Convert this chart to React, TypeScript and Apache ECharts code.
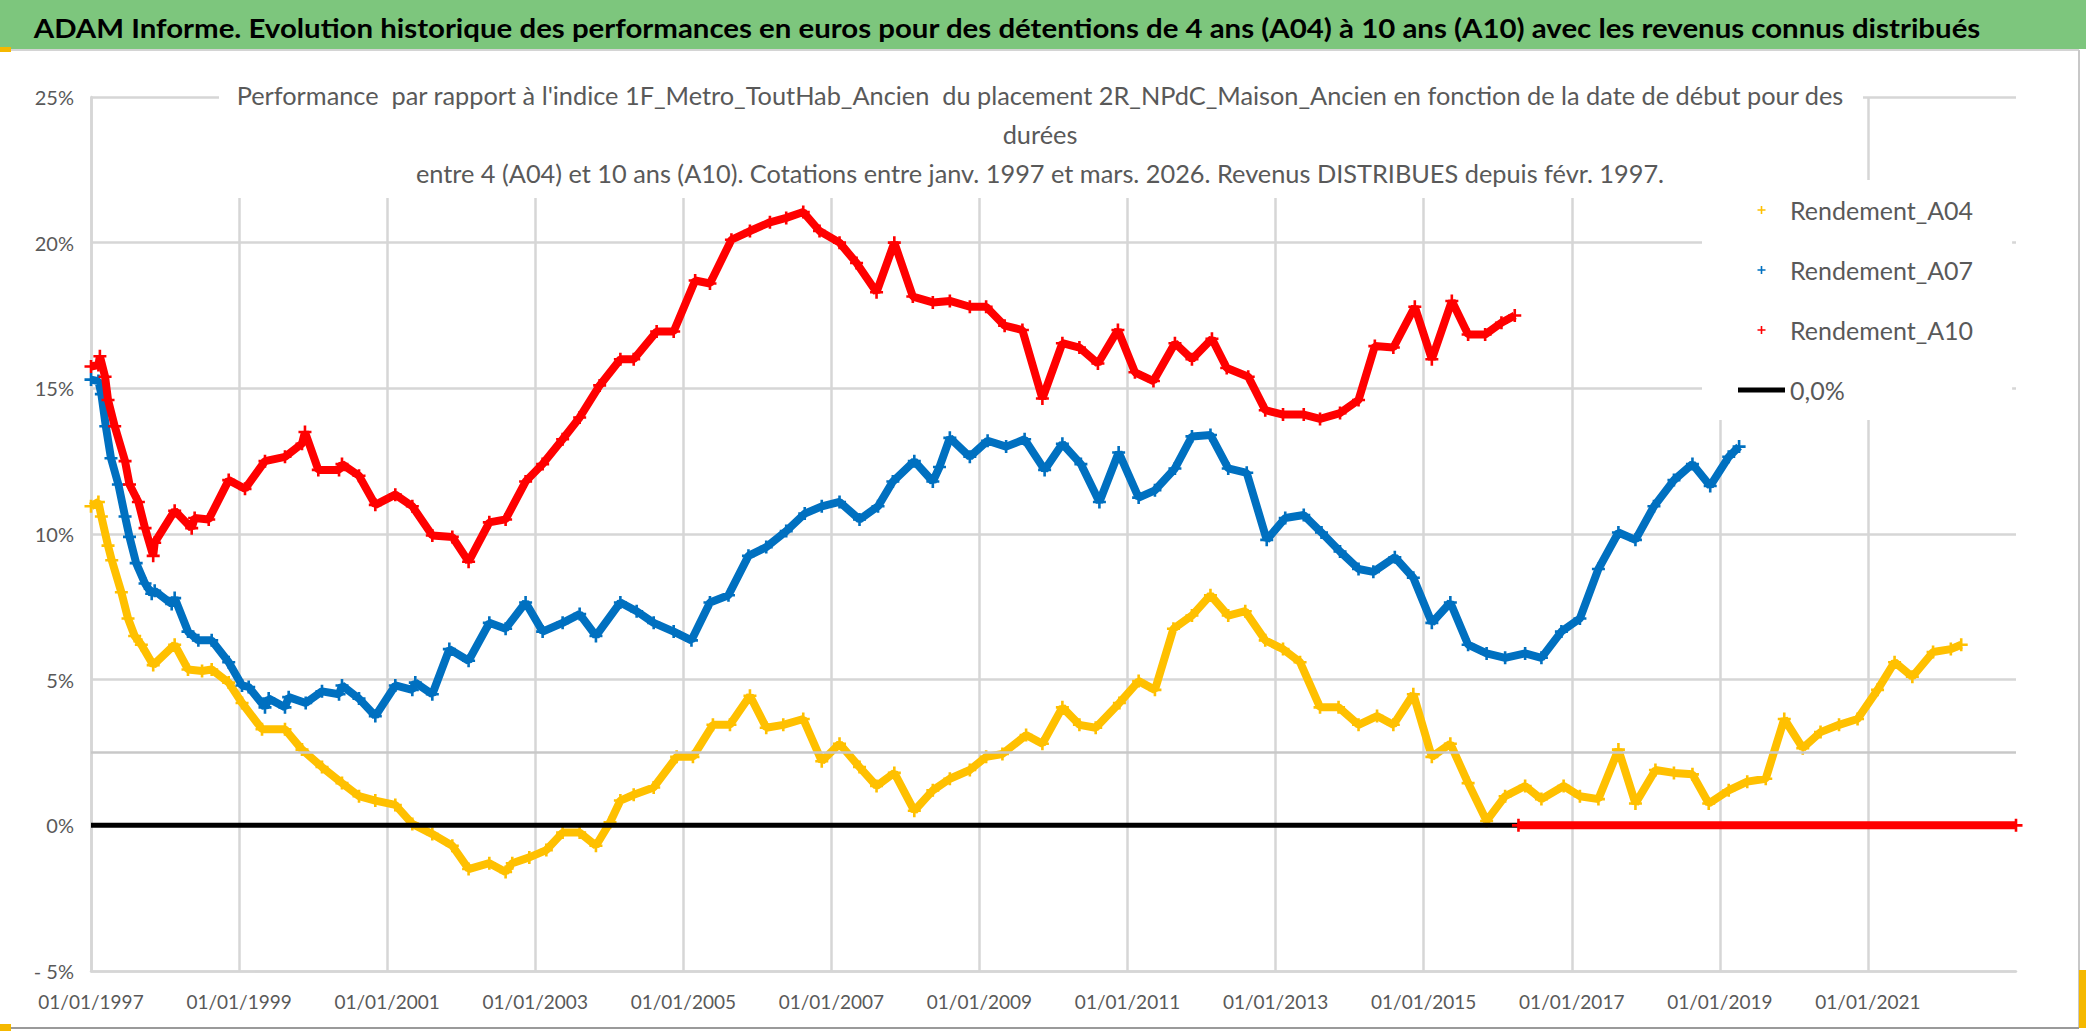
import React, { useEffect, useRef } from 'react';
import * as echarts from 'echarts';

const START_YEAR = 1997;
const END_YEAR = 2023;
const X_TICK_STEP = 2;
const Y_MIN = -5;
const Y_MAX = 25;
const Y_STEP = 5;
const REFERENCE_LEVEL = 2.5;

const TITLE =
  'ADAM Informe. Evolution historique des performances en euros pour des détentions de 4 ans (A04) à 10 ans (A10) avec les revenus connus distribués';
const SUBTITLE_LINES = [
  "Performance  par rapport à l'indice 1F_Metro_ToutHab_Ancien  du placement 2R_NPdC_Maison_Ancien en fonction de la date de début pour des",
  'durées',
  'entre 4 (A04) et 10 ans (A10). Cotations entre janv. 1997 et mars. 2026. Revenus DISTRIBUES depuis févr. 1997.',
];
const SERIES_NAMES = ['Rendement_A04', 'Rendement_A07', 'Rendement_A10', '0,0%'];
const SERIES_COLORS = ['#FFC000', '#0070C0', '#FF0000', '#000000'];

// [year (decimal), performance %]
const A04 = [
  [1997.0, 10.95], [1997.1, 11.1], [1997.14, 10.6], [1997.23, 9.6], [1997.28, 9.1], [1997.41, 8.0],
  [1997.5, 7.1], [1997.59, 6.5], [1997.68, 6.2], [1997.84, 5.5], [1998.13, 6.2], [1998.31, 5.35],
  [1998.5, 5.3], [1998.63, 5.35], [1998.86, 4.9], [1999.04, 4.2], [1999.31, 3.3], [1999.62, 3.3],
  [1999.85, 2.6], [2000.12, 2.0], [2000.39, 1.45], [2000.62, 1.0], [2000.84, 0.85], [2001.11, 0.7],
  [2001.34, 0.05], [2001.61, -0.3], [2001.88, -0.7], [2002.1, -1.5], [2002.38, -1.3], [2002.6, -1.6],
  [2002.69, -1.3], [2002.92, -1.1], [2003.15, -0.85], [2003.37, -0.25], [2003.6, -0.25], [2003.82, -0.7],
  [2004.01, 0.1], [2004.15, 0.85], [2004.33, 1.05], [2004.6, 1.3], [2004.91, 2.35], [2005.13, 2.35],
  [2005.4, 3.45], [2005.63, 3.45], [2005.9, 4.45], [2006.12, 3.35], [2006.35, 3.45], [2006.62, 3.65],
  [2006.87, 2.2], [2007.11, 2.8], [2007.38, 2.0], [2007.61, 1.35], [2007.85, 1.8], [2008.12, 0.5],
  [2008.37, 1.2], [2008.6, 1.6], [2008.87, 1.9], [2009.09, 2.35], [2009.31, 2.45], [2009.63, 3.1],
  [2009.85, 2.8], [2010.12, 4.05], [2010.35, 3.45], [2010.57, 3.35], [2010.89, 4.2], [2011.15, 4.95],
  [2011.37, 4.65], [2011.62, 6.75], [2011.87, 7.2], [2012.12, 7.9], [2012.36, 7.2], [2012.59, 7.35],
  [2012.86, 6.35], [2013.1, 6.05], [2013.33, 5.6], [2013.6, 4.05], [2013.85, 4.05], [2014.12, 3.45],
  [2014.37, 3.75], [2014.59, 3.45], [2014.86, 4.5], [2015.11, 2.35], [2015.36, 2.8], [2015.6, 1.45],
  [2015.85, 0.15], [2016.1, 1.0], [2016.37, 1.35], [2016.59, 0.9], [2016.89, 1.35], [2017.11, 1.0],
  [2017.36, 0.9], [2017.63, 2.6], [2017.86, 0.75], [2018.13, 1.9], [2018.38, 1.8], [2018.63, 1.75],
  [2018.85, 0.75], [2019.12, 1.2], [2019.37, 1.5], [2019.62, 1.6], [2019.87, 3.65], [2020.12, 2.65],
  [2020.36, 3.2], [2020.61, 3.45], [2020.86, 3.65], [2021.13, 4.65], [2021.36, 5.6], [2021.6, 5.1],
  [2021.88, 5.95], [2022.12, 6.05], [2022.26, 6.2],
];

const A07 = [
  [1997.0, 15.3], [1997.1, 15.25], [1997.14, 14.8], [1997.2, 13.7], [1997.27, 12.6], [1997.37, 11.7],
  [1997.46, 10.6], [1997.52, 9.9], [1997.61, 9.0], [1997.73, 8.3], [1997.82, 7.95], [1997.86, 8.05],
  [1998.09, 7.6], [1998.13, 7.8], [1998.31, 6.65], [1998.45, 6.35], [1998.63, 6.35], [1998.86, 5.6],
  [1999.04, 4.8], [1999.13, 4.75], [1999.35, 4.05], [1999.4, 4.35], [1999.62, 4.05], [1999.67, 4.4],
  [1999.9, 4.2], [2000.12, 4.6], [2000.35, 4.5], [2000.39, 4.8], [2000.62, 4.35], [2000.84, 3.75],
  [2001.11, 4.8], [2001.34, 4.65], [2001.38, 4.9], [2001.61, 4.5], [2001.84, 6.05], [2002.1, 5.65],
  [2002.38, 6.95], [2002.6, 6.75], [2002.87, 7.65], [2003.1, 6.65], [2003.37, 6.95], [2003.6, 7.25],
  [2003.82, 6.5], [2004.15, 7.65], [2004.37, 7.35], [2004.6, 6.95], [2004.87, 6.65], [2005.11, 6.35],
  [2005.36, 7.65], [2005.61, 7.9], [2005.88, 9.25], [2006.12, 9.55], [2006.39, 10.1], [2006.64, 10.7],
  [2006.87, 10.95], [2007.11, 11.1], [2007.38, 10.5], [2007.63, 10.95], [2007.83, 11.8], [2008.12, 12.5],
  [2008.37, 11.8], [2008.46, 12.3], [2008.6, 13.3], [2008.87, 12.65], [2009.11, 13.2], [2009.36, 13.0],
  [2009.61, 13.25], [2009.88, 12.2], [2010.12, 13.1], [2010.37, 12.4], [2010.62, 11.1], [2010.88, 12.8],
  [2011.15, 11.25], [2011.37, 11.5], [2011.64, 12.25], [2011.87, 13.35], [2012.12, 13.4], [2012.36, 12.25],
  [2012.61, 12.1], [2012.88, 9.8], [2013.13, 10.55], [2013.38, 10.65], [2013.62, 10.05], [2013.87, 9.4],
  [2014.12, 8.8], [2014.32, 8.7], [2014.61, 9.2], [2014.86, 8.5], [2015.11, 6.95], [2015.36, 7.65],
  [2015.6, 6.2], [2015.85, 5.9], [2016.1, 5.75], [2016.37, 5.9], [2016.59, 5.75], [2016.86, 6.65],
  [2017.11, 7.1], [2017.36, 8.8], [2017.63, 10.05], [2017.86, 9.8], [2018.11, 10.95], [2018.38, 11.85],
  [2018.63, 12.4], [2018.87, 11.65], [2019.12, 12.65], [2019.26, 13.0],
];

const A10 = [
  [1997.0, 15.75], [1997.1, 15.8], [1997.12, 16.1], [1997.19, 15.4], [1997.23, 14.6], [1997.32, 13.7],
  [1997.46, 12.5], [1997.52, 11.7], [1997.64, 11.1], [1997.73, 10.2], [1997.84, 9.25], [1997.86, 9.7],
  [1998.13, 10.8], [1998.36, 10.2], [1998.4, 10.55], [1998.59, 10.5], [1998.86, 11.85], [1999.08, 11.55],
  [1999.35, 12.5], [1999.62, 12.65], [1999.85, 13.1], [1999.89, 13.5], [2000.07, 12.2], [2000.35, 12.2],
  [2000.39, 12.4], [2000.62, 12.0], [2000.84, 11.0], [2001.11, 11.35], [2001.34, 10.95], [2001.61, 9.95],
  [2001.88, 9.9], [2002.1, 9.05], [2002.38, 10.4], [2002.6, 10.5], [2002.87, 11.8], [2003.1, 12.4],
  [2003.37, 13.25], [2003.6, 14.0], [2003.87, 15.1], [2004.15, 16.0], [2004.33, 16.0], [2004.64, 16.95],
  [2004.87, 16.95], [2005.16, 18.7], [2005.36, 18.6], [2005.65, 20.1], [2005.9, 20.4], [2006.17, 20.7],
  [2006.39, 20.85], [2006.62, 21.05], [2006.84, 20.4], [2007.11, 20.0], [2007.34, 19.3], [2007.61, 18.3],
  [2007.85, 20.0], [2008.1, 18.15], [2008.37, 17.95], [2008.6, 18.0], [2008.87, 17.8], [2009.09, 17.8],
  [2009.34, 17.15], [2009.58, 17.0], [2009.85, 14.65], [2010.12, 16.55], [2010.35, 16.4], [2010.6, 15.85],
  [2010.87, 17.0], [2011.1, 15.55], [2011.35, 15.25], [2011.64, 16.55], [2011.87, 16.0], [2012.14, 16.7],
  [2012.34, 15.7], [2012.63, 15.4], [2012.86, 14.25], [2013.1, 14.1], [2013.38, 14.1], [2013.6, 13.95],
  [2013.87, 14.15], [2014.12, 14.6], [2014.34, 16.45], [2014.59, 16.4], [2014.88, 17.8], [2015.11, 16.0],
  [2015.38, 18.0], [2015.6, 16.85], [2015.83, 16.85], [2016.05, 17.25], [2016.23, 17.5],
];

// A10 values after the end of its data (plotted at 0)
const A10_ZERO_TAIL = [[2016.28, 0], [2023.0, 0]];
const ZERO_LINE = [[1997.0, 0], [2023.0, 0]];
const REFERENCE_LINE = [[1997.0, REFERENCE_LEVEL], [2023.0, REFERENCE_LEVEL]];

const PLUS = 'path://M4,0H6V4H10V6H6V10H4V6H0V4H4Z';
const BAR_ICON = 'path://M0,0H47V5H0Z';
const FONT = 'Lato, "Open Sans", sans-serif';
const GREY_TEXT = '#595959';
const GRID_COLOR = '#d6d6d6';
const REF_COLOR = '#c8c8c8';

const toXY = (arr: number[][]) => arr.map(([yr, v]) => [yr - START_YEAR, v]);

function textWidth(text: string, font: string): number {
  const ctx = document.createElement('canvas').getContext('2d');
  if (!ctx) return 1;
  ctx.font = font;
  return ctx.measureText(text).width || 1;
}

export default function App() {
  const ref = useRef<HTMLDivElement>(null);

  useEffect(() => {
    if (!ref.current) return;
    const chart = echarts.init(ref.current, null, { renderer: 'svg' });

    const titleScale = 1948 / textWidth(TITLE, `bold 26px ${FONT}`);
    const s1 = 1624 / textWidth(SUBTITLE_LINES[0], `25px ${FONT}`);
    const s3 = 1235 / textWidth(SUBTITLE_LINES[2], `25px ${FONT}`);
    const subScale = (s1 + s3) / 2;
    const subY = [95, 134, 173];

    const lineSeries = (name: string, data: number[][], color: string, z: number, width = 8) => ({
      name,
      type: 'line',
      data: toXY(data),
      z,
      symbol: PLUS,
      symbolSize: 13,
      symbolKeepAspect: true,
      lineStyle: { color, width },
      itemStyle: { color },
      emphasis: { disabled: true },
      silent: true,
    });

    const option: any = {
      animation: false,
      backgroundColor: '#ffffff',
      grid: { left: 91, right: 70, top: 97, bottom: 60, outerBoundsMode: 'none' },
      xAxis: {
        type: 'value',
        min: 0,
        max: END_YEAR - START_YEAR,
        interval: X_TICK_STEP,
        axisLine: { show: true, onZero: false, lineStyle: { color: GRID_COLOR, width: 2.5 } },
        axisTick: { show: false },
        splitLine: { show: true, showMaxLine: false, lineStyle: { color: GRID_COLOR, width: 2.5 } },
        axisLabel: {
          formatter: (v: number) => '01/01/' + (START_YEAR + v),
          color: GREY_TEXT,
          fontSize: 19,
          fontFamily: FONT,
          margin: 21,
          showMaxLabel: false,
        },
      },
      yAxis: {
        type: 'value',
        min: Y_MIN,
        max: Y_MAX,
        interval: Y_STEP,
        axisLine: { show: true, onZero: false, lineStyle: { color: GRID_COLOR, width: 2.5 } },
        axisTick: { show: false },
        splitLine: { show: true, lineStyle: { color: GRID_COLOR, width: 2.5 } },
        axisLabel: {
          formatter: (v: number) => (v < 0 ? '- ' + Math.abs(v) + '%' : v + '%'),
          color: GREY_TEXT,
          fontSize: 20,
          fontFamily: FONT,
          margin: 17,
        },
      },
      legend: {
        orient: 'vertical',
        left: 1702,
        top: 180,
        padding: [15, 39, 15, 36],
        backgroundColor: '#ffffff',
        itemWidth: 47,
        itemHeight: 8,
        itemGap: 30,
        selectedMode: false,
        textStyle: { color: GREY_TEXT, fontSize: 25, fontFamily: FONT, lineHeight: 30 },
        data: [
          { name: SERIES_NAMES[0], icon: PLUS },
          { name: SERIES_NAMES[1], icon: PLUS },
          { name: SERIES_NAMES[2], icon: PLUS },
          { name: SERIES_NAMES[3], icon: BAR_ICON },
        ],
      },
      series: [
        {
          name: 'Référence 2,5%',
          type: 'line',
          data: toXY(REFERENCE_LINE),
          symbol: 'none',
          showSymbol: false,
          silent: true,
          lineStyle: { color: REF_COLOR, width: 2.5, opacity: 1 },
          itemStyle: { color: REF_COLOR },
          emphasis: { disabled: true },
        },
        lineSeries(SERIES_NAMES[0], A04, SERIES_COLORS[0], 2),
        lineSeries(SERIES_NAMES[1], A07, SERIES_COLORS[1], 2),
        {
          name: SERIES_NAMES[3],
          type: 'line',
          data: toXY(ZERO_LINE),
          z: 3,
          symbol: 'none',
          lineStyle: { color: SERIES_COLORS[3], width: 5 },
          itemStyle: { color: SERIES_COLORS[3] },
          emphasis: { disabled: true },
          silent: true,
        },
        lineSeries(SERIES_NAMES[2], A10, SERIES_COLORS[2], 4),
        lineSeries(SERIES_NAMES[2], A10_ZERO_TAIL, SERIES_COLORS[2], 4, 8),
      ],
      graphic: [
        { type: 'rect', z: 20, shape: { x: 0, y: 0, width: 2086, height: 49 }, style: { fill: '#7dc67d' } },
        { type: 'line', z: 21, shape: { x1: 0, y1: 50, x2: 2079, y2: 50 }, style: { stroke: '#d4d4d4', lineWidth: 2 } },
        {
          type: 'text',
          z: 22,
          x: 1007,
          y: 28,
          scaleX: titleScale,
          style: {
            text: TITLE,
            fontSize: 26,
            fontWeight: 'bold',
            fontFamily: FONT,
            fill: '#000000',
            align: 'center',
            verticalAlign: 'middle',
          },
        },
        { type: 'rect', z: 20, shape: { x: 219, y: 54, width: 1644, height: 144 }, style: { fill: '#ffffff' } },
        ...SUBTITLE_LINES.map((t, i) => ({
          type: 'text',
          z: 22,
          x: 1040,
          y: subY[i],
          scaleX: subScale,
          style: {
            text: t,
            fontSize: 25,
            fontFamily: FONT,
            fill: GREY_TEXT,
            align: 'center',
            verticalAlign: 'middle',
          },
        })),
        { type: 'line', z: 21, shape: { x1: 2079, y1: 50, x2: 2079, y2: 1028 }, style: { stroke: '#c8c8c8', lineWidth: 2 } },
        { type: 'line', z: 21, shape: { x1: 0, y1: 1028, x2: 2079, y2: 1028 }, style: { stroke: '#9a9a9a', lineWidth: 2 } },
        { type: 'rect', z: 23, shape: { x: 0, y: 47, width: 11, height: 5 }, style: { fill: '#f5b800' } },
        { type: 'rect', z: 23, shape: { x: 0, y: 1024, width: 11, height: 7 }, style: { fill: '#f5b800' } },
        { type: 'rect', z: 23, shape: { x: 2079, y: 970, width: 7, height: 58 }, style: { fill: '#f5b800' } },
      ],
    };

    chart.setOption(option);
    return () => chart.dispose();
  }, []);

  return (
    <div
      ref={ref}
      style={{ position: 'absolute', left: 0, top: 0, width: 2086, height: 1031, background: '#ffffff' }}
    />
  );
}
